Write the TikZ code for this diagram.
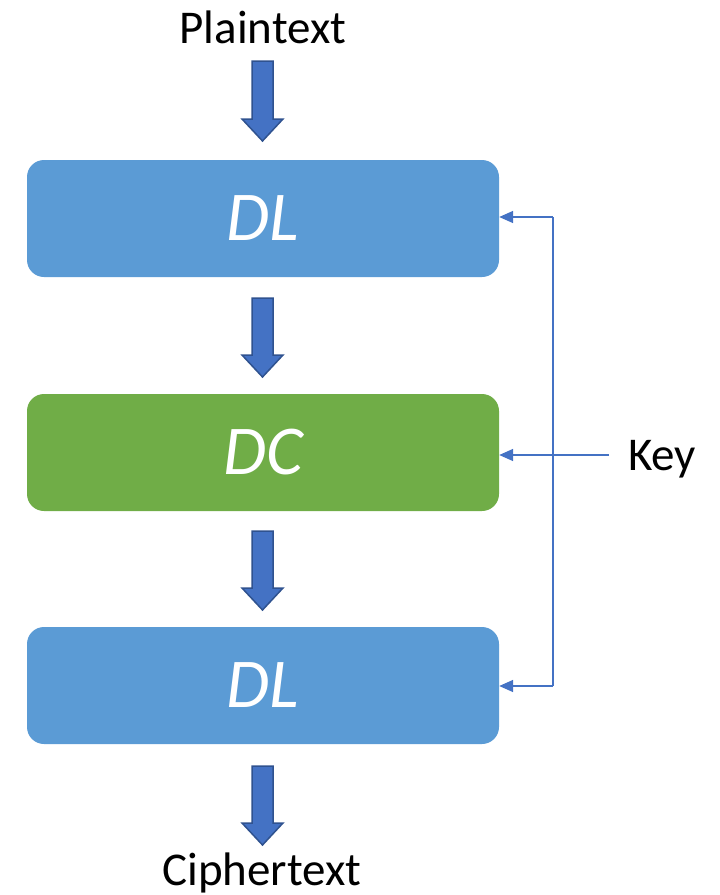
\documentclass[tikz,border=0pt]{standalone}
\usepackage{fontspec}
\setmainfont{Carlito}
\usetikzlibrary{arrows.meta}
\definecolor{boxblue}{HTML}{5B9BD5}
\definecolor{boxgreen}{HTML}{70AD47}
\definecolor{arrfill}{HTML}{4472C4}
\definecolor{arredge}{HTML}{2F528F}
\begin{document}
\begin{tikzpicture}[x=1pt,y=-1pt,
  stage/.style={rectangle, rounded corners=17pt, minimum width=472pt, minimum height=117pt, inner sep=0pt, text=white, font=\fontsize{70}{74}\selectfont\itshape},
  lbl/.style={inner sep=0pt, font=\fontsize{47}{50}\selectfont},
  keyline/.style={draw=arrfill, line width=1.6pt},
  keyarrow/.style={keyline, -{Triangle[length=14pt,width=12pt]}},
  blockarrow/.style={fill=arrfill, draw=arredge, line width=1.5pt, line join=miter}
]
\useasboundingbox (0,0) rectangle (720,895);
\node[stage, fill=boxblue] (dl1) at (263,218.5) {DL};
\node[stage, fill=boxgreen] (dc) at (263,452.5) {DC};
\node[stage, fill=boxblue] (dl2) at (263,685.5) {DL};
\node[lbl, anchor=base] (pt) at (263,43) {Plaintext};
\node[lbl, anchor=base] (ct) at (262,885) {Ciphertext};
\node[lbl, anchor=base west] (key) at (628,470) {Key};
% block arrows
\foreach \t/\b in {61/141, 298/377, 531/610, 766/845}{
  \draw[blockarrow] (252,\t) -- (273,\t) -- (273,\b-22) -- (283,\b-22) -- (262.5,\b) -- (242,\b-22) -- (252,\b-22) -- cycle;
}
\coordinate (kj) at (553,455);
\coordinate (ktop) at (553,217);
\coordinate (kbot) at (553,686);
\coordinate (kin) at (609,455);
\draw[keyline] (ktop) -- (kbot);
\draw[keyarrow] (kin) -- (dc.east |- kj);
\draw[keyarrow] (ktop) -- (dl1.east |- ktop);
\draw[keyarrow] (kbot) -- (dl2.east |- kbot);
\end{tikzpicture}
\end{document}
